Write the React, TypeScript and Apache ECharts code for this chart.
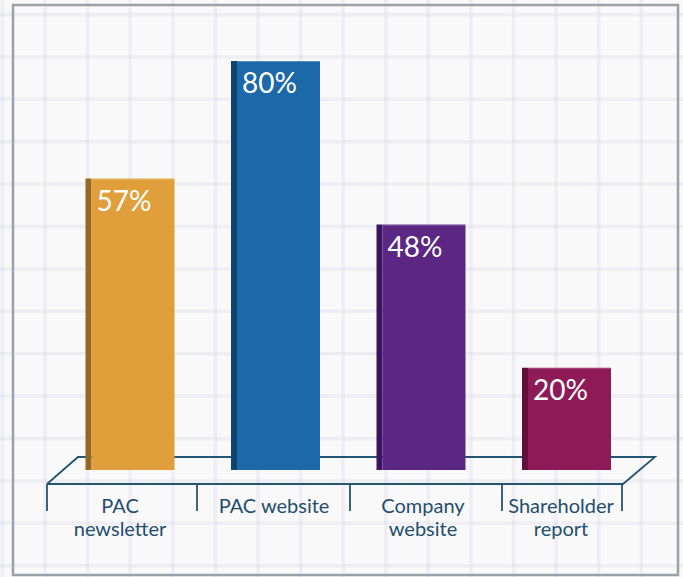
import React, { useEffect, useRef } from "react";
import * as echarts from "echarts";

const categories = ["PAC\nnewsletter", "PAC website", "Company\nwebsite", "Shareholder\nreport"];
const values = [57, 80, 48, 20];
const frontColors = ["#E09F3A", "#1C68A8", "#5B2783", "#8E1B58"];
const sideColors = ["#96681F", "#0D4470", "#3C1360", "#640C3B"];
const labelPadding = [[0, 20, 0, 0], [0, 3, 0, 0], [0, 0, 0, 4], [0, 11, 0, 0]];

const W = 683;
const H = 577;

function buildBackground() {
  const els: any[] = [];
  const gridColor = "rgba(214,214,232,0.32)";
  for (let x = 2.4; x < W; x += 42.6) {
    els.push({ type: "line", z: -10, shape: { x1: x, y1: 0, x2: x, y2: H }, style: { stroke: gridColor, lineWidth: 3.5 } });
  }
  for (let y = 14.5; y < H; y += 42.4) {
    els.push({ type: "line", z: -10, shape: { x1: 0, y1: y, x2: W, y2: y }, style: { stroke: gridColor, lineWidth: 3.5 } });
  }
  els.push({ type: "rect", z: -5, shape: { x: 13, y: 5, width: 665, height: 570 }, style: { fill: "none", stroke: "#9AA1A9", lineWidth: 2.5 } });
  const floorColor = "#235470";
  els.push({
    type: "polyline", z: -1,
    shape: { points: [[47, 484], [78, 457], [655, 457], [623, 484], [47, 484]] },
    style: { stroke: floorColor, lineWidth: 1.8, fill: "none" },
  });
  [47, 197, 350, 502, 622].forEach((x) => {
    els.push({ type: "line", z: -1, shape: { x1: x, y1: 484, x2: x, y2: 511 }, style: { stroke: floorColor, lineWidth: 1.8 } });
  });
  return els;
}

export default function App() {
  const ref = useRef<HTMLDivElement>(null);
  useEffect(() => {
    if (!ref.current) return;
    const chart = echarts.init(ref.current, null, { renderer: "svg" });
    const rich: any = {};
    labelPadding.forEach((p, i) => {
      rich["c" + i] = {
        color: "#1F4E6E",
        fontFamily: "Lato",
        fontSize: 20,
        lineHeight: 23,
        padding: p,
      };
    });
    chart.setOption({
      animation: false,
      backgroundColor: "#F9F9F9",
      graphic: { elements: buildBackground() },
      grid: { left: 57.25, right: 43.75, top: 61, bottom: 107 },
      xAxis: {
        type: "category",
        data: categories,
        axisLine: { show: false },
        axisTick: { show: false },
        axisLabel: {
          interval: 0,
          margin: 23,
          color: "#1F4E6E",
          fontFamily: "Lato",
          fontSize: 20,
          lineHeight: 23,
          formatter: (val: string, idx: number) =>
            val.split("\n").map((line) => "{c" + idx + "|" + line + "}").join("\n"),
          rich,
        },
      },
      yAxis: { type: "value", min: 0, max: 80, show: false, splitLine: { show: false } },
      series: [
        {
          type: "custom",
          data: values.map((v, i) => [i, v]),
          renderItem: (params: any, api: any) => {
            const i = api.value(0);
            const v = api.value(1);
            const top = api.coord([i, v]);
            const base = api.coord([i, 0]);
            const cx = top[0];
            const total = 89;
            const side = 6;
            const x0 = cx - total / 2;
            const h = base[1] - top[1];
            return {
              type: "group",
              children: [
                { type: "rect", shape: { x: x0, y: top[1], width: side, height: h }, style: { fill: sideColors[i] } },
                { type: "rect", shape: { x: x0 + side, y: top[1], width: total - side, height: h }, style: { fill: frontColors[i] } },
                { type: "line", shape: { x1: x0 + side, y1: top[1] + 0.5, x2: x0 + total, y2: top[1] + 0.5 }, style: { stroke: "rgba(255,255,255,0.25)", lineWidth: 1 } },
                {
                  type: "text",
                  style: {
                    text: v + "%",
                    x: x0 + side + 5,
                    y: top[1] + 21,
                    fill: "#FFFFFF",
                    fontFamily: "Lato",
                    fontSize: 28,
                    verticalAlign: "middle",
                    align: "left",
                  },
                },
              ],
            };
          },
        },
      ],
    });
    return () => chart.dispose();
  }, []);
  return <div ref={ref} style={{ position: "fixed", left: 0, top: 0, width: W, height: H }} />;
}
